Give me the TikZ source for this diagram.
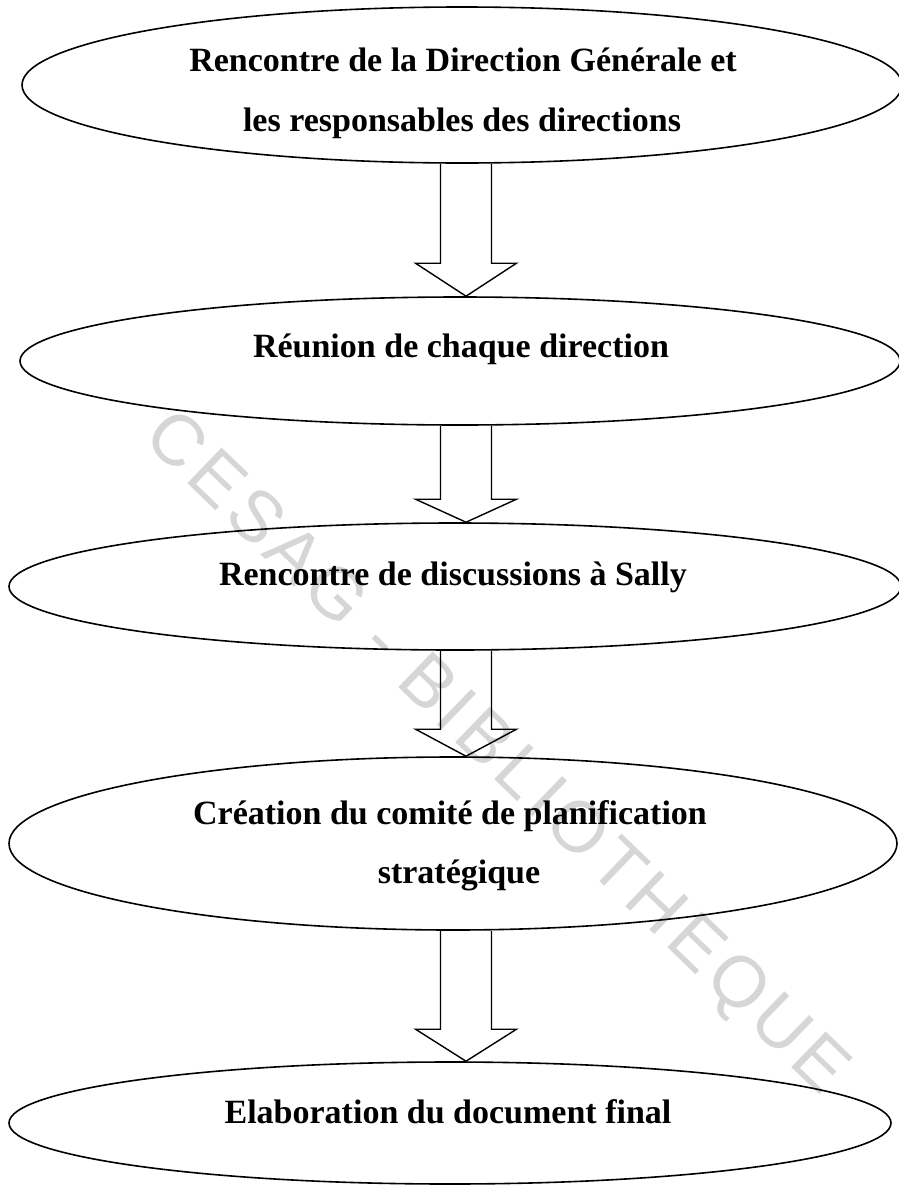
\documentclass[tikz,border=0pt]{standalone}
\usepackage{fontspec}
\usetikzlibrary{shapes.geometric,calc}
\newfontfamily\labfont{Liberation Serif}
\newfontfamily\wmfont{Liberation Sans}[LetterSpace=8]
\tikzset{
  stage/.style={draw=black, line width=1.6pt, ellipse, inner sep=0pt},
  lab/.style={font=\labfont\bfseries\fontsize{34}{40}\selectfont, anchor=base, inner sep=0pt},
  arrowline/.style={draw=black, line width=1.4pt, line join=miter},
  wmark/.style={font=\wmfont\fontsize{72}{80}\selectfont, text=black!16, rotate=-44, inner sep=0pt}
}
\newcommand{\blkarrow}[3]{%
  \draw[arrowline] ([xshift=-25.5pt]ax |- #1.south)
    -- ([xshift=-25.5pt,yshift=#3]ax |- #2.north)
    -- ([xshift=-50.5pt,yshift=#3]ax |- #2.north)
    -- (ax |- #2.north)
    -- ([xshift=50.5pt,yshift=#3]ax |- #2.north)
    -- ([xshift=25.5pt,yshift=#3]ax |- #2.north)
    -- ([xshift=25.5pt]ax |- #1.south);}
\begin{document}
\begin{tikzpicture}[x=1pt,y=-1pt]
\useasboundingbox (0,0) rectangle (899,1186);
\clip (0,0) rectangle (899,1186);
\fill[white] (0,0) rectangle (899,1186);
% watermark
\node[wmark] (wm) at (495,755) {CESAG - BIBLIOTHEQUE};
% stages
\node[stage, minimum width=880pt, minimum height=156pt] (e1) at (462,85) {};
\node[stage, minimum width=880pt, minimum height=128pt] (e2) at (460,361) {};
\node[stage, minimum width=892pt, minimum height=127pt] (e3) at (455,586.5) {};
\node[stage, minimum width=888pt, minimum height=173pt] (e4) at (453,843.5) {};
\node[stage, minimum width=882pt, minimum height=122pt] (e5) at (450,1123) {};
% labels
\node[lab] (t1a) at (463,71) {Rencontre de la Direction Générale et};
\node[lab] (t1b) at (462,131) {les responsables des directions};
\node[lab] (t2) at (461,357) {Réunion de chaque direction};
\node[lab] (t3) at (453,585) {Rencontre de discussions à Sally};
\node[lab] (t4a) at (450,824) {Création du comité de planification};
\node[lab] (t4b) at (459,883) {stratégique};
\node[lab] (t5) at (448,1123) {Elaboration du document final};
% arrows
\coordinate (ax) at (466,0);
\blkarrow{e1}{e2}{33pt}
\blkarrow{e2}{e3}{23pt}
\blkarrow{e3}{e4}{27pt}
\blkarrow{e4}{e5}{32pt}
\end{tikzpicture}
\end{document}
